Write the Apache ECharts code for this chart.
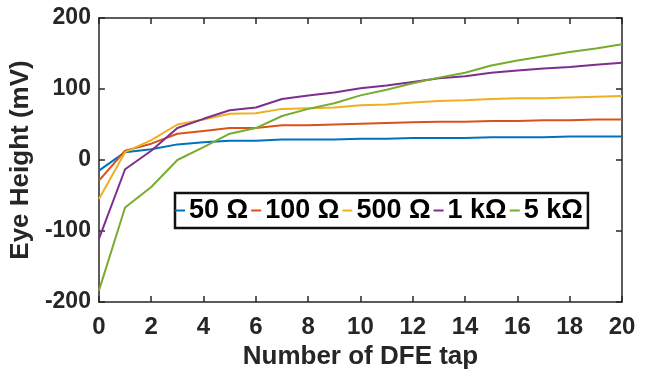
<!DOCTYPE html>
<html><head><meta charset="utf-8">
<script src="https://cdn.jsdelivr.net/npm/echarts@6/dist/echarts.min.js"></script>
<style>html,body{margin:0;padding:0;background:#fff}#c{width:655px;height:376px}</style>
</head><body><div id="c"></div>
<script>
const taps = [0,1,2,3,4,5,6,7,8,9,10,11,12,13,14,15,16,17,18,19,20];
const seriesNames = ['50 Ω','100 Ω','500 Ω','1 kΩ','5 kΩ'];
const s50   = [-15,11,15,22,25,27,27,29,29,29,30,30,31,31,31,32,32,32,33,33,33];
const s100  = [-29,13,23,37,41,45,45,49,49,50,51,52,53,54,54,55,55,56,56,57,57];
const s500  = [-55,11,28,50,57,65,66,72,73,74,77,78,81,83,84,86,87,87,88,89,90];
const s1k   = [-111,-13,13,45,58,70,74,86,91,95,101,105,110,115,118,123,126,129,131,134,137];
const s5k   = [-184,-67,-38,0,18,37,45,62,72,80,91,99,108,116,123,133,140,146,152,157,163];
const xTicks = [0,2,4,6,8,10,12,14,16,18,20];
const yTicks = [-200,-100,0,100,200];
const colors = ['#0072BD','#D95319','#EDB120','#7E2F8E','#77AC30'];
const allData = [s50,s100,s500,s1k,s5k];

const FONT = "'Liberation Sans',Arial,Helvetica,sans-serif";
const axisLineStyle = {color:'#262626', width:1.5};
const tick = {show:true, inside:true, length:6, lineStyle:axisLineStyle};
const chart = echarts.init(document.getElementById('c'));
chart.setOption({
  animation:false,
  textStyle:{fontFamily:FONT},
  grid:{left:95,right:33,top:18,bottom:74},
  legend:{
    left:175, top:193, orient:'horizontal',
    data: seriesNames,
    icon:'rect', itemWidth:10, itemHeight:2, itemGap:3,
    borderColor:'#111', borderWidth:2.5, padding:[4,5,4,0],
    backgroundColor:'#fff',
    textStyle:{fontFamily:FONT, fontWeight:'bold', fontSize:27, color:'#000', padding:[0,0,0,-1]}
  },
  xAxis:[{
    type:'value', min:0, max:20, interval:2, position:'bottom',
    name:'Number of DFE tap', nameLocation:'middle', nameGap:40,
    nameTextStyle:{fontFamily:FONT, fontWeight:'bold', fontSize:26, color:'#262626'},
    axisLine:{show:true,onZero:false,lineStyle:axisLineStyle}, axisTick:tick,
    axisLabel:{fontFamily:FONT, fontWeight:'bold', fontSize:24, color:'#262626', margin:13},
    splitLine:{show:false}
  },{
    type:'value', min:0, max:20, interval:2, position:'top',
    axisLine:{show:true,onZero:false,lineStyle:axisLineStyle}, axisTick:tick,
    axisLabel:{show:false}, splitLine:{show:false}
  }],
  yAxis:[{
    type:'value', min:-200, max:200, interval:100, position:'left',
    name:'Eye Height (mV)', nameLocation:'middle', nameGap:56, nameRotate:90,
    nameTextStyle:{fontFamily:FONT, fontWeight:'bold', fontSize:26, color:'#262626'},
    axisLine:{show:true,onZero:false,lineStyle:axisLineStyle}, axisTick:tick,
    axisLabel:{fontFamily:FONT, fontWeight:'bold', fontSize:23, color:'#262626', margin:8},
    splitLine:{show:false}
  },{
    type:'value', min:-200, max:200, interval:100, position:'right',
    axisLine:{show:true,onZero:false,lineStyle:axisLineStyle}, axisTick:tick,
    axisLabel:{show:false}, splitLine:{show:false}
  }],
  series: seriesNames.map((n,i)=>({
    name:n, type:'line', xAxisIndex:0, yAxisIndex:0,
    data: taps.map((t,j)=>[t, allData[i][j]]),
    showSymbol:false, symbol:'none',
    lineStyle:{width:2, color:colors[i]}, itemStyle:{color:colors[i]}, z:2+i
  }))
});
</script></body></html>
